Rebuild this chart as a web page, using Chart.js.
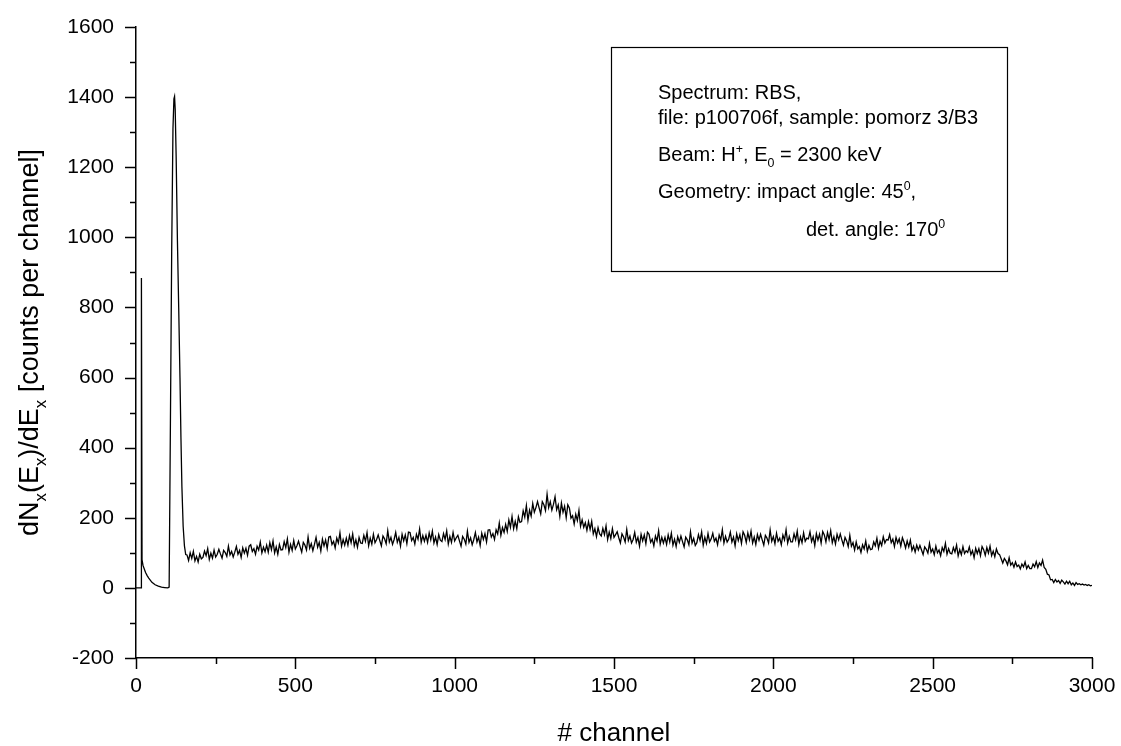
<!DOCTYPE html>
<html>
<head>
<meta charset="utf-8">
<script src="https://cdn.jsdelivr.net/npm/chart.js@4/dist/chart.umd.min.js"></script>
<style>
    html, body { margin: 0; padding: 0; background: #fff; }
    canvas { display: block; }
</style>
</head>
<body>
<canvas id="chart" width="1121" height="746"></canvas>
<script>
// low channels: surface spike and the big peak, read point by point
const peakChannels = [0, 8, 16, 17, 19, 22, 26, 30, 35, 40, 50, 60, 70, 80, 90, 100, 104, 108, 112, 116,
    119, 121, 123, 126, 130, 134, 138, 141, 144, 148, 152, 156];
const peakCounts = [0, 0, 0, 884, 80, 64, 54, 44, 35, 28, 16, 9, 5, 2, 1, 0, 2, 470, 960, 1310,
    1395, 1402, 1365, 1230, 990, 800, 600, 430, 290, 175, 120, 95];

// continuum, channel 160 to 3000, one reading every 5 channels (one row = 50 channels)
const continuumStart = 160;
const continuumStep = 5;
const continuumCounts = [
    94, 78, 100, 84, 104, 77, 90, 74, 96, 83,            // 160
    87, 105, 92, 112, 81, 99, 85, 108, 88, 96,
    110, 97, 85, 107, 101, 90, 119, 94, 104, 88,
    102, 118, 96, 107, 87, 114, 99, 113, 93, 119,
    123, 104, 112, 96, 119, 108, 131, 100, 116, 103,
    122, 102, 129, 109, 134, 100, 117, 96, 124, 108,     // 410
    109, 132, 115, 140, 102, 124, 107, 135, 111, 120,
    133, 117, 102, 130, 122, 108, 145, 113, 126, 106,
    124, 144, 116, 130, 105, 139, 120, 137, 112, 145,
    147, 124, 133, 114, 142, 128, 157, 119, 138, 122,
    142, 122, 149, 129, 154, 120, 137, 116, 144, 128,    // 660
    127, 150, 133, 158, 120, 142, 125, 153, 129, 138,
    151, 135, 120, 148, 140, 126, 163, 131, 144, 124,
    138, 158, 130, 144, 119, 153, 134, 151, 126, 159,
    158, 135, 144, 125, 153, 139, 168, 130, 149, 133,
    150, 130, 157, 137, 162, 128, 145, 124, 152, 136,    // 910
    132, 155, 138, 163, 125, 147, 130, 158, 134, 143,
    150, 134, 119, 147, 139, 125, 162, 130, 143, 123,
    138, 158, 131, 145, 121, 156, 138, 155, 131, 165,
    166, 145, 155, 138, 166, 154, 185, 150, 172, 158,
    181, 161, 194, 173, 204, 169, 190, 169, 203, 187,    // 1160
    189, 220, 202, 235, 193, 222, 205, 241, 216, 229,
    246, 228, 211, 246, 237, 221, 267, 229, 246, 222,
    238, 260, 223, 237, 204, 242, 216, 233, 200, 237,
    228, 199, 206, 182, 210, 192, 221, 176, 194, 173,
    186, 164, 189, 167, 190, 154, 169, 146, 172, 154,    // 1410
    148, 170, 152, 177, 138, 159, 141, 169, 144, 152,
    160, 143, 128, 154, 145, 131, 167, 135, 148, 128,
    138, 158, 130, 144, 119, 153, 134, 151, 126, 159,
    153, 130, 139, 120, 148, 134, 163, 125, 144, 128,
    144, 124, 151, 131, 156, 122, 139, 118, 146, 130,    // 1660
    148, 132, 117, 145, 137, 123, 160, 128, 141, 121,
    129, 152, 135, 160, 122, 144, 127, 155, 131, 140,
    156, 133, 142, 123, 151, 137, 166, 128, 147, 131,
    139, 159, 131, 145, 120, 154, 135, 152, 127, 160,
    150, 130, 157, 137, 162, 128, 145, 124, 152, 136,    // 1910
    153, 137, 122, 150, 142, 128, 165, 133, 146, 126,
    156, 133, 142, 123, 151, 137, 166, 128, 147, 131,
    131, 154, 137, 162, 124, 146, 129, 157, 133, 142,
    140, 160, 132, 146, 121, 155, 136, 153, 128, 161,
    151, 131, 158, 138, 163, 129, 146, 125, 153, 137,    // 2160
    154, 137, 122, 144, 134, 118, 150, 119, 129, 108,
    131, 111, 118, 101, 123, 111, 134, 104, 121, 109,
    111, 131, 120, 142, 113, 133, 121, 146, 128, 138,
    136, 152, 129, 139, 118, 144, 128, 140, 119, 143,
    131, 114, 134, 117, 136, 107, 119, 102, 122, 108,    // 2410
    121, 108, 95, 117, 110, 99, 127, 102, 111, 95,
    119, 100, 108, 92, 115, 104, 127, 96, 112, 99,
    97, 115, 102, 122, 91, 109, 95, 118, 98, 106,
    101, 117, 95, 106, 86, 113, 98, 112, 92, 118,
    109, 93, 115, 99, 119, 92, 105, 89, 111, 98,         // 2660
    95, 83, 71, 84, 77, 66, 86, 65, 72, 59,
    74, 61, 65, 54, 68, 60, 74, 55, 64, 55,
    55, 68, 60, 75, 58, 71, 64, 79, 58, 53,
    39, 37, 23, 24, 15, 24, 17, 21, 13, 22,
    17, 11, 19, 12, 19, 9, 14, 7, 15, 10,                // 2910
    12, 9, 11, 8, 10, 7, 9, 6, 7                         // 2960..3000
];

const xTicks = [0, 500, 1000, 1500, 2000, 2500, 3000];
const yTicks = [-200, 0, 200, 400, 600, 800, 1000, 1200, 1400, 1600];

const infoLines = [
    [['Spectrum: RBS,', '']],
    [['file: p100706f, sample: pomorz 3/B3', '']],
    [['Beam: H', ''], ['+', 'sup'], [', E', ''], ['0', 'sub'], [' = 2300 keV', '']],
    [['Geometry: impact angle: 45', ''], ['0', 'sup'], [',', '']],
    [['det. angle: 170', ''], ['0', 'sup']]
];
const yTitle = [['dN', ''], ['x', 'sub'], ['(E', ''], ['x', 'sub'], [')/dE', ''], ['x', 'sub'], [' [counts per channel]', '']];
const xTitle = '# channel';

const points = [];
peakChannels.forEach((c, i) => points.push({ x: c, y: peakCounts[i] }));
continuumCounts.forEach((v, i) => points.push({ x: continuumStart + i * continuumStep, y: v }));

const FONT = '"Liberation Sans", Arial, sans-serif';

function richWidth(ctx, parts, size) {
    let w = 0;
    parts.forEach(([t, mode]) => {
        ctx.font = (mode ? size * 0.62 : size) + 'px ' + FONT;
        w += ctx.measureText(t).width;
    });
    return w;
}

function drawRich(ctx, parts, x, y, size) {
    let cx = x;
    parts.forEach(([t, mode]) => {
        const s = mode ? size * 0.62 : size;
        let dy = 0;
        if (mode === 'sub') dy = size * 0.28;
        if (mode === 'sup') dy = -size * 0.42;
        ctx.font = s + 'px ' + FONT;
        ctx.fillText(t, cx, y + dy);
        cx += ctx.measureText(t).width;
    });
}

const decorations = {
    id: 'decorations',
    afterDraw(chart) {
        const { ctx, chartArea, scales } = chart;
        const xs = scales.x, ys = scales.y;
        ctx.save();
        ctx.strokeStyle = '#000';
        ctx.lineWidth = 1.5;
        ctx.beginPath();
        for (let v = 0; v <= 3000; v += 250) {
            const px = Math.round(xs.getPixelForValue(v)) + 0.5;
            const len = xTicks.includes(v) ? 11 : 6;
            ctx.moveTo(px, chartArea.bottom);
            ctx.lineTo(px, chartArea.bottom + len);
        }
        for (let v = -200; v <= 1600; v += 100) {
            const py = Math.round(ys.getPixelForValue(v)) + 0.5;
            const len = yTicks.includes(v) ? 11 : 6;
            ctx.moveTo(chartArea.left, py);
            ctx.lineTo(chartArea.left - len, py);
        }
        ctx.stroke();

        ctx.fillStyle = '#000';
        ctx.textBaseline = 'alphabetic';

        // x title
        ctx.font = '26px ' + FONT;
        ctx.textAlign = 'center';
        ctx.fillText(xTitle, (chartArea.left + chartArea.right) / 2, 741);

        // y title, rotated
        ctx.textAlign = 'left';
        ctx.save();
        ctx.translate(38, (chartArea.top + chartArea.bottom) / 2);
        ctx.rotate(-Math.PI / 2);
        const w = richWidth(ctx, yTitle, 27);
        drawRich(ctx, yTitle, -w / 2, 0, 27);
        ctx.restore();

        // info box
        ctx.lineWidth = 1.2;
        ctx.strokeRect(611.5, 47.5, 396, 224);
        const baselines = [99, 124, 161, 198, 236];
        const lefts = [658, 658, 658, 658, 806];
        infoLines.forEach((parts, i) => drawRich(ctx, parts, lefts[i], baselines[i], 20));
        ctx.restore();
    }
};

new Chart(document.getElementById('chart'), {
    type: 'scatter',
    data: {
        datasets: [{
            data: points,
            showLine: true,
            borderColor: '#000',
            borderWidth: 1.3,
            pointRadius: 0,
            tension: 0
        }]
    },
    options: {
        responsive: false,
        animation: false,
        layout: { padding: { top: 27, right: 29, left: 0, bottom: 0 } },
        scales: {
            x: {
                type: 'linear',
                min: 0,
                max: 3000,
                afterFit(scale) {
                    scale.height = 88;
                    scale.paddingLeft = 0;
                    scale.paddingRight = 0;
                },
                afterBuildTicks(scale) { scale.ticks = xTicks.map(v => ({ value: v })); },
                grid: { display: false },
                border: { display: true, color: '#000', width: 1.5 },
                ticks: {
                    color: '#000', padding: 8, maxRotation: 0,
                    font: { family: FONT, size: 21 },
                    callback: v => String(v)
                }
            },
            y: {
                type: 'linear',
                min: -200,
                max: 1600,
                afterFit(scale) {
                    scale.width = 136;
                    scale.paddingTop = 0;
                    scale.paddingBottom = 0;
                },
                afterBuildTicks(scale) { scale.ticks = yTicks.map(v => ({ value: v })); },
                grid: { display: false },
                border: { display: true, color: '#000', width: 1.5 },
                ticks: {
                    color: '#000', padding: 14,
                    font: { family: FONT, size: 21 },
                    callback: v => String(v)
                }
            }
        },
        plugins: {
            legend: { display: false },
            tooltip: { enabled: false }
        }
    },
    plugins: [decorations]
});
</script>
</body>
</html>
